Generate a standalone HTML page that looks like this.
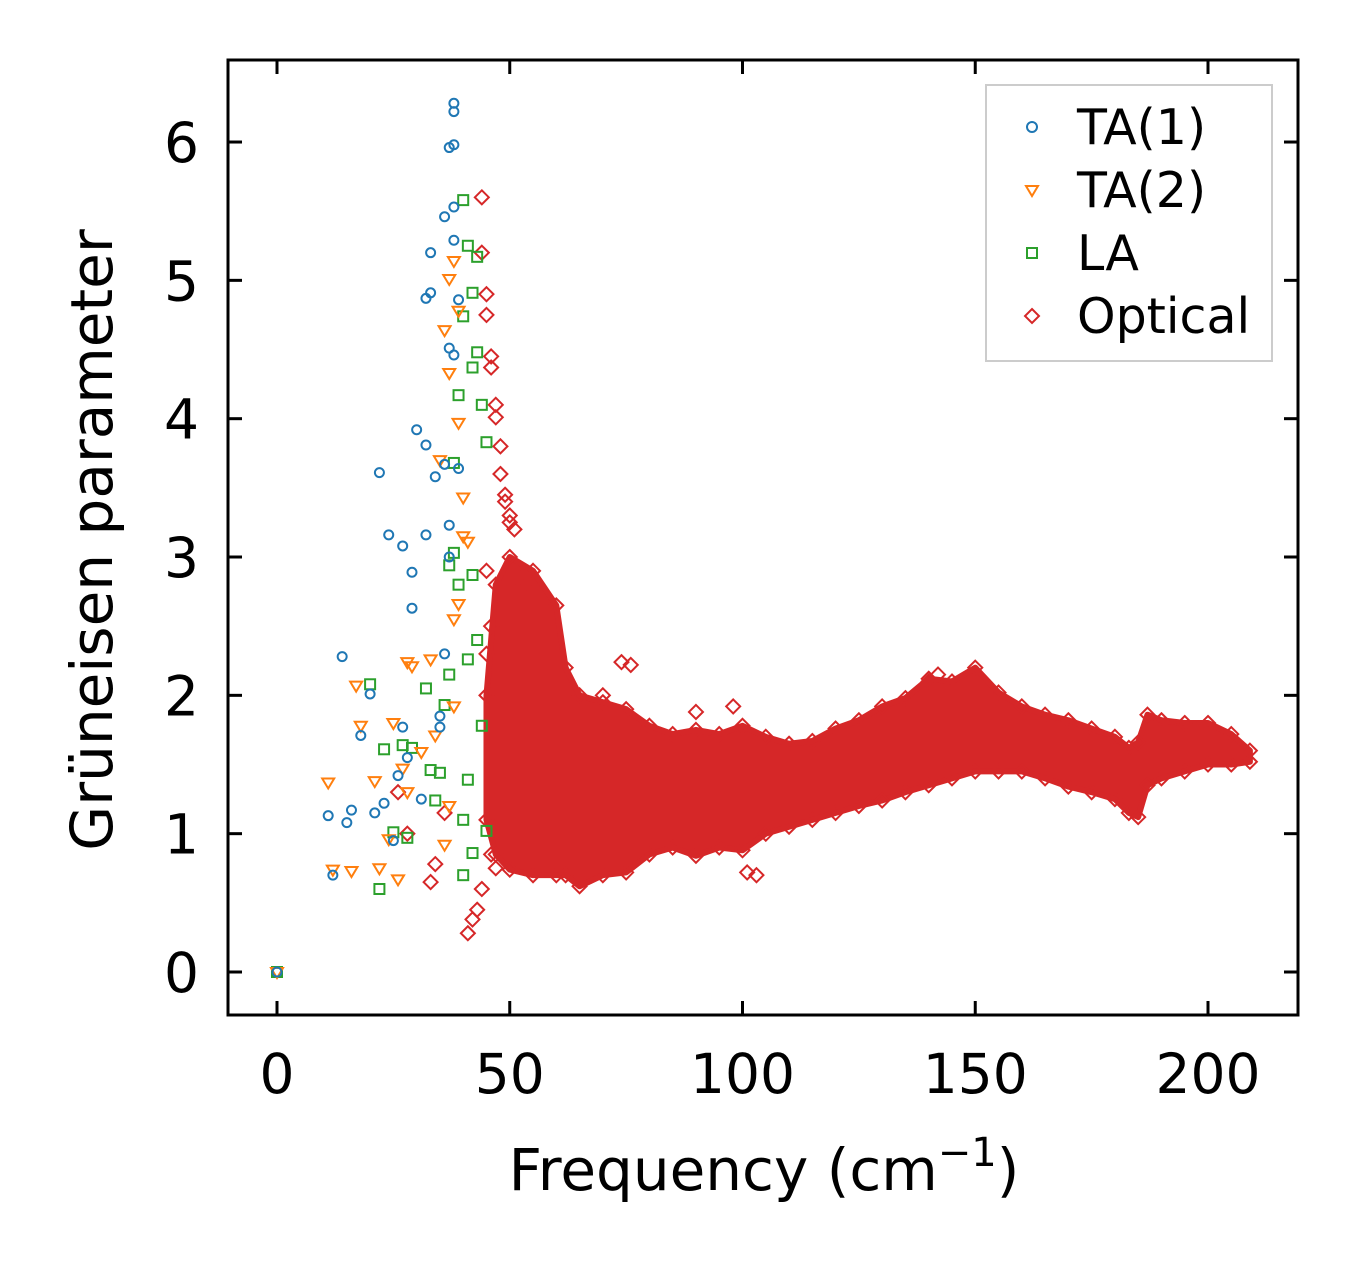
<!DOCTYPE html>
<html><head><meta charset="utf-8"><style>
body{margin:0;background:#fff}
svg text{font-family:"DejaVu Sans","Liberation Sans",sans-serif}
</style></head><body>
<svg id="c" width="1357" height="1264" xmlns="http://www.w3.org/2000/svg">
<rect x="0" y="0" width="1357" height="1264" fill="#fff"/>
<g id="plot"></g>
<rect x="228" y="60" width="1070" height="955" fill="none" stroke="#000" stroke-width="3"/>
<g id="axes"></g>
<text x="764" y="1190" font-size="58" text-anchor="middle">Frequency (cm<tspan dy="-24" font-size="40">−1</tspan><tspan dy="24">)</tspan></text>
<text transform="translate(112,540) rotate(-90)" font-size="58" text-anchor="middle">Grüneisen parameter</text>
<g>
<rect x="986" y="85" width="286" height="276" fill="#fff" stroke="#ccc" stroke-width="2"/>
<circle cx="1032" cy="127" r="5" fill="none" stroke="#1f77b4" stroke-width="2"/>
<text x="1077" y="144" font-size="49">TA(1)</text>
<path d="M1026,186 L1038,186 L1032,196 Z" fill="none" stroke="#ff7f0e" stroke-width="2"/>
<text x="1077" y="207" font-size="49">TA(2)</text>
<rect x="1027" y="248" width="10" height="10" fill="none" stroke="#2ca02c" stroke-width="2"/>
<text x="1077" y="270" font-size="49">LA</text>
<path d="M1032,309 L1039,316 L1032,323 L1025,316 Z" fill="none" stroke="#d62728" stroke-width="2"/>
<text x="1077" y="333" font-size="49">Optical</text>
</g>
</svg>
<script>
const xTicks=[0,50,100,150,200];
const yTicks=[0,1,2,3,4,5,6];
const ta1X=[0,11,12,14,15,16,18,20,21,22,23,24,25,26,27,27,28,29,29,30,31,32,32,33,34,35,35,36,36,37,37,37,38,38,38,38,38,39,39,33,32,36,37,38];
const ta1Y=[0,1.13,0.7,2.28,1.08,1.17,1.71,2.01,1.15,3.61,1.22,3.16,0.95,1.42,1.77,3.08,1.55,2.89,2.63,3.92,1.25,3.81,3.16,5.2,3.58,1.85,1.77,5.46,3.67,5.96,3.23,3.0,6.28,6.22,5.98,5.53,5.29,4.86,3.64,4.91,4.87,2.3,4.51,4.46];
const ta2X=[0,11,12,16,17,18,21,22,24,25,26,27,28,28,29,31,33,34,35,36,37,37,38,38,39,39,40,40,41,39,38,37,36];
const ta2Y=[0,1.37,0.74,0.73,2.07,1.78,1.38,0.75,0.96,1.8,0.67,1.47,1.3,2.24,2.21,1.59,2.26,1.71,3.7,4.64,4.33,5.01,5.14,2.55,4.78,3.97,3.43,3.15,3.11,2.66,1.92,1.2,0.92];
const laX=[0,20,22,23,25,27,28,29,32,33,34,35,36,37,37,38,38,39,39,40,40,40,41,41,42,42,42,43,43,43,44,44,45,45,40,41,42];
const laY=[0,2.08,0.6,1.61,1.01,1.64,0.97,1.62,2.05,1.46,1.24,1.44,1.93,2.15,2.94,3.68,3.03,2.8,4.17,5.58,4.74,1.1,5.25,2.26,4.91,4.37,2.87,4.48,2.4,5.17,4.1,1.78,3.83,1.02,0.7,1.39,0.86];
const optFreq=[45,47,50,55,60,62,65,70,75,80,85,90,95,100,105,110,115,120,125,130,135,140,145,150,155,160,165,170,175,180,183,185,187,190,195,200,205,209];
const optHigh=[2.0,2.8,3.0,2.9,2.65,2.2,2.0,1.95,1.9,1.78,1.72,1.75,1.72,1.78,1.7,1.65,1.67,1.76,1.82,1.92,1.98,2.12,2.1,2.2,2.02,1.92,1.86,1.82,1.76,1.7,1.62,1.66,1.86,1.82,1.8,1.8,1.72,1.6];
const optLow=[1.1,0.85,0.74,0.7,0.7,0.7,0.62,0.7,0.72,0.85,0.9,0.84,0.9,0.88,1.0,1.05,1.1,1.15,1.2,1.24,1.3,1.35,1.4,1.45,1.45,1.45,1.4,1.34,1.3,1.25,1.15,1.12,1.35,1.4,1.45,1.5,1.5,1.52];
const outX=[44,44,45,45,46,46,47,47,48,48,49,49,50,50,51,52,53,33,34,36,26,28,41,42,43,44,70,74,76,90,101,103,98,140,142,45,46,47,46,45];
const outY=[5.6,5.2,4.9,4.75,4.45,4.37,4.1,4.01,3.8,3.6,3.45,3.4,3.3,3.25,3.2,2.85,2.8,0.65,0.78,1.15,1.3,1.0,0.28,0.38,0.45,0.6,2.0,2.24,2.22,1.88,0.72,0.7,1.92,2.1,2.15,2.9,2.5,0.75,0.85,2.3];
const NS='http://www.w3.org/2000/svg';
const X=v=>277+v*4.655, Y=v=>972-v*138.33;
const plot=document.getElementById('plot'), axes=document.getElementById('axes');
function mk(t,a,p){const e=document.createElementNS(NS,t);for(const k in a)e.setAttribute(k,a[k]);p.appendChild(e);return e;}
let pts=optFreq.map((f,i)=>X(f)+','+Y(optHigh[i]));
for(let i=optFreq.length-1;i>=0;i--)pts.push(X(optFreq[i])+','+Y(optLow[i]));
const band=mk('polygon',{points:pts.join(' '),fill:'#d62728',stroke:'#d62728','stroke-width':6,'stroke-linejoin':'round'},plot);


function dia(x,y){const e=mk('path',{d:`M${x},${y-7} L${x+7},${y} L${x},${y+7} L${x-7},${y} Z`,fill:'none',stroke:'#d62728','stroke-width':2},plot);

}
optFreq.forEach((f,i)=>{dia(X(f),Y(optHigh[i]));dia(X(f),Y(optLow[i]));});
outX.forEach((f,i)=>dia(X(f),Y(outY[i])));
laX.forEach((f,i)=>{const e=mk('rect',{x:X(f)-5,y:Y(laY[i])-5,width:10,height:10,fill:'none',stroke:'#2ca02c','stroke-width':2},plot);

});
ta2X.forEach((f,i)=>{const x=X(f),y=Y(ta2Y[i]);const e=mk('path',{d:`M${x-6},${y-4} L${x+6},${y-4} L${x},${y+6} Z`,fill:'none',stroke:'#ff7f0e','stroke-width':2},plot);

});
ta1X.forEach((f,i)=>{const e=mk('circle',{cx:X(f),cy:Y(ta1Y[i]),r:4.5,fill:'none',stroke:'#1f77b4','stroke-width':2},plot);

});
xTicks.forEach(t=>{const x=X(t);
mk('line',{x1:x,y1:1015,x2:x,y2:1001,stroke:'#000','stroke-width':3},axes);
mk('line',{x1:x,y1:60,x2:x,y2:74,stroke:'#000','stroke-width':3},axes);
const l=mk('text',{x:x,y:1093,'font-size':55,'text-anchor':'middle'},axes);l.textContent=t;

});
yTicks.forEach(t=>{const y=Y(t);
mk('line',{x1:228,y1:y,x2:242,y2:y,stroke:'#000','stroke-width':3},axes);
mk('line',{x1:1298,y1:y,x2:1284,y2:y,stroke:'#000','stroke-width':3},axes);
const l=mk('text',{x:199,y:y+20,'font-size':55,'text-anchor':'end'},axes);l.textContent=t;

});
</script>
</body></html>
